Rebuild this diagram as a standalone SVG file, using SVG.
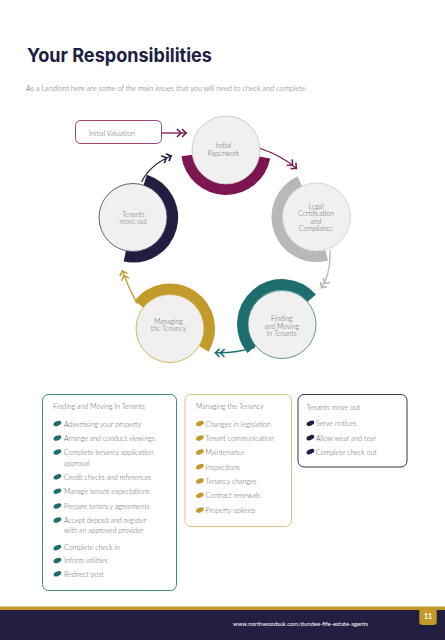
<svg xmlns="http://www.w3.org/2000/svg" xmlns:xlink="http://www.w3.org/1999/xlink" width="445" height="640" viewBox="0 0 445 640">
<style>
.t{font-family:Lato,"Liberation Sans",sans-serif;font-weight:300;fill:#5e5e64;font-size:7px}
.c{text-anchor:middle;font-size:6.8px}
.title{font-family:Inter,"Liberation Sans",sans-serif;font-weight:700;fill:#221e42;font-size:19px}
.arc{fill:none;stroke-width:11}
.node{fill:#f1f0f0;stroke-width:0.7}
.box{fill:#fff;stroke-width:0.9}
.con{fill:none;stroke-width:1.3}
</style>
<defs>
<ellipse id="leaf" cx="3.9" cy="-2" rx="4.1" ry="2.3" transform="rotate(-22 3.9 -2)"/>
<marker id="mM" viewBox="0 0 12 10" refX="11" refY="5" markerWidth="12" markerHeight="10" markerUnits="userSpaceOnUse" orient="auto"><path d="M1,1 L5,5 L1,9 M6,1 L10,5 L6,9" fill="none" stroke="#7b1650" stroke-width="1.6"/></marker>
<marker id="mG" viewBox="0 0 12 10" refX="11" refY="5" markerWidth="12" markerHeight="10" markerUnits="userSpaceOnUse" orient="auto"><path d="M1,1 L5,5 L1,9 M6,1 L10,5 L6,9" fill="none" stroke="#b8b8b8" stroke-width="1.6"/></marker>
<marker id="mT" viewBox="0 0 12 10" refX="11" refY="5" markerWidth="12" markerHeight="10" markerUnits="userSpaceOnUse" orient="auto"><path d="M1,1 L5,5 L1,9 M6,1 L10,5 L6,9" fill="none" stroke="#1e6e6e" stroke-width="1.6"/></marker>
<marker id="mY" viewBox="0 0 12 10" refX="11" refY="5" markerWidth="12" markerHeight="10" markerUnits="userSpaceOnUse" orient="auto"><path d="M1,1 L5,5 L1,9 M6,1 L10,5 L6,9" fill="none" stroke="#c29b2a" stroke-width="1.6"/></marker>
<marker id="mN" viewBox="0 0 12 10" refX="11" refY="5" markerWidth="12" markerHeight="10" markerUnits="userSpaceOnUse" orient="auto"><path d="M1,1 L5,5 L1,9 M6,1 L10,5 L6,9" fill="none" stroke="#221e42" stroke-width="1.6"/></marker>
</defs>
<rect width="445" height="640" fill="#fff"/>
<text class="title" x="27" y="61.5" textLength="185" lengthAdjust="spacingAndGlyphs">Your Responsibilities</text>
<text class="t" x="26" y="91" font-size="6.6" textLength="281" lengthAdjust="spacingAndGlyphs">As a Landlord here are some of the main issues that you will need to check and complete.</text>

<g id="connectors">
<path class="con" stroke="#7b1650" d="M162,133 L187,133" marker-end="url(#mM)"/>
<path class="con" stroke="#7b1650" d="M259,148 Q282,155.5 297,169" marker-end="url(#mM)"/>
<path class="con" stroke="#b8b8b8" d="M330,250 Q331,274 321,288.5" marker-end="url(#mG)"/>
<path class="con" stroke="#1e6e6e" d="M255,347.3 Q235,353.4 214.5,352.7" marker-end="url(#mT)"/>
<path class="con" stroke="#c29b2a" d="M137,303.5 Q128,287 122,270" marker-end="url(#mY)"/>
<path class="con" stroke="#221e42" d="M141.7,181.7 Q150,164.7 172,155.5" marker-end="url(#mN)"/>
</g>

<g id="initial-valuation">
<rect x="75.5" y="120.5" width="86" height="23" rx="5" fill="#fff" stroke="#7b1650" stroke-width="0.8"/>
<text class="t" x="89" y="135.5">Initial Valuation</text>
</g>

<g id="initial-paperwork">
<path class="arc" stroke="#7b1650" d="M264.77,157.54 A39.5,39.5 0 0 1 186.88,155.5"/>
<circle class="node" cx="226" cy="150" r="34" stroke="#c9b5c0"/>
<text class="t c" x="223.5" y="148.3">Initial</text>
<text class="t c" x="223.5" y="155.6">Paperwork</text>
</g>

<g id="legal">
<path class="arc" stroke="#b8b8b8" d="M326.72,255.15 A39.5,39.5 0 0 1 299.81,181.2"/>
<circle class="node" cx="316.5" cy="217" r="34" stroke="#c8c8c8"/>
<text class="t c" x="316" y="208.5">Legal</text>
<text class="t c" x="316" y="216.2">Certification</text>
<text class="t c" x="316" y="223.5">and</text>
<text class="t c" x="316" y="231">Compliance</text>
</g>

<g id="finding">
<path class="arc" stroke="#1e6e6e" d="M251.74,349.39 A39.5,39.5 0 0 1 311.81,298.09"/>
<circle class="node" cx="282" cy="324.5" r="34" stroke="#1e6e6e"/>
<text class="t c" x="281.7" y="321">Finding</text>
<text class="t c" x="281.7" y="328.5">and Moving</text>
<text class="t c" x="281.7" y="336">In Tenants</text>
</g>

<g id="managing">
<path class="arc" stroke="#c29b2a" d="M138.87,304.18 A39.5,39.5 0 0 1 203.86,348.84"/>
<circle class="node" cx="170" cy="328.5" r="34" stroke="#c29b2a"/>
<text class="t c" x="168.5" y="323.8">Managing</text>
<text class="t c" x="168.5" y="331.3">the Tenancy</text>
</g>

<g id="tenants-move-out">
<path class="arc" stroke="#221e42" d="M145.21,179.93 A39.5,39.5 0 0 1 124.79,256.14"/>
<circle class="node" cx="133" cy="217.5" r="34" stroke="#221e42"/>
<text class="t c" x="133.3" y="216.7">Tenants</text>
<text class="t c" x="133.3" y="224">move out</text>
</g>

<g id="box-finding">
<rect class="box" x="42.5" y="394.5" width="134" height="196" rx="6" stroke="#2f7777"/>
<text class="t" x="53" y="409">Finding and Moving In Tenants</text>
<g fill="#1e6e6e">
<use xlink:href="#leaf" x="53.5" y="425.5"/>
<use xlink:href="#leaf" x="53.5" y="440"/>
<use xlink:href="#leaf" x="53.5" y="454"/>
<use xlink:href="#leaf" x="53.5" y="478.8"/>
<use xlink:href="#leaf" x="53.5" y="493.2"/>
<use xlink:href="#leaf" x="53.5" y="508"/>
<use xlink:href="#leaf" x="53.5" y="522"/>
<use xlink:href="#leaf" x="53.5" y="549.6"/>
<use xlink:href="#leaf" x="53.5" y="562.5"/>
<use xlink:href="#leaf" x="53.5" y="575.8"/>
</g>
<text class="t" x="64" y="426.6">Advertising your property</text>
<text class="t" x="64" y="441">Arrange and conduct viewings</text>
<text class="t" x="64" y="455">Complete tenancy application</text>
<text class="t" x="64" y="465.6">approval</text>
<text class="t" x="64" y="479.6">Credit checks and references</text>
<text class="t" x="64" y="494">Manage tenant expectations</text>
<text class="t" x="64" y="508.8">Prepare tenancy agreements</text>
<text class="t" x="64" y="522.8">Accept deposit and register</text>
<text class="t" x="64" y="533">with an approved provider</text>
<text class="t" x="64" y="550.4">Complete check in</text>
<text class="t" x="64" y="563.3">Inform utilities</text>
<text class="t" x="64" y="576.6">Redirect post</text>
</g>

<g id="box-managing">
<rect class="box" x="185" y="394.5" width="106.5" height="132" rx="6" stroke="#d2bd78"/>
<text class="t" x="196" y="409">Managing the Tenancy</text>
<g fill="#c29b2a">
<use xlink:href="#leaf" x="196" y="425.5"/>
<use xlink:href="#leaf" x="196" y="440"/>
<use xlink:href="#leaf" x="196" y="454"/>
<use xlink:href="#leaf" x="196" y="468.6"/>
<use xlink:href="#leaf" x="196" y="483"/>
<use xlink:href="#leaf" x="196" y="497.3"/>
<use xlink:href="#leaf" x="196" y="512"/>
</g>
<text class="t" x="205.5" y="426.6">Changes in legislation</text>
<text class="t" x="205.5" y="441">Tenant communication</text>
<text class="t" x="205.5" y="455">Maintenance</text>
<text class="t" x="205.5" y="469.6">Inspections</text>
<text class="t" x="205.5" y="484">Tenancy changes</text>
<text class="t" x="205.5" y="498.3">Contract renewals</text>
<text class="t" x="205.5" y="513">Property upkeep</text>
</g>

<g id="box-move-out">
<rect class="box" x="298" y="394.5" width="109" height="72.5" rx="6" stroke="#221e42"/>
<text class="t" x="306.5" y="409.5">Tenants move out</text>
<g fill="#221e42">
<use xlink:href="#leaf" x="306.5" y="425.3"/>
<use xlink:href="#leaf" x="306.5" y="439.6"/>
<use xlink:href="#leaf" x="306.5" y="453.6"/>
</g>
<text class="t" x="316" y="426.4">Serve notices</text>
<text class="t" x="316" y="440.7">Allow wear and tear</text>
<text class="t" x="316" y="454.7">Complete check out</text>
</g>

<g id="footer">
<rect x="0" y="606.5" width="445" height="4" fill="#c29b2a"/>
<rect x="0" y="610" width="445" height="30" fill="#221f40"/>
<path d="M419.3,608 H436.7 V622 Q436.7,625 433.7,625 H422.3 Q419.3,625 419.3,622 Z" fill="#c29b2a"/>
<text x="428" y="619.3" text-anchor="middle" font-family="Lato,'Liberation Sans',sans-serif" font-weight="700" font-size="7" fill="#fff">11</text>
<text x="233" y="625.7" font-family="Lato,'Liberation Sans',sans-serif" font-size="6" fill="#fff" textLength="135" lengthAdjust="spacingAndGlyphs">www.northwoodsuk.com/dundee-fife-estate-agents</text>
</g>
</svg>
